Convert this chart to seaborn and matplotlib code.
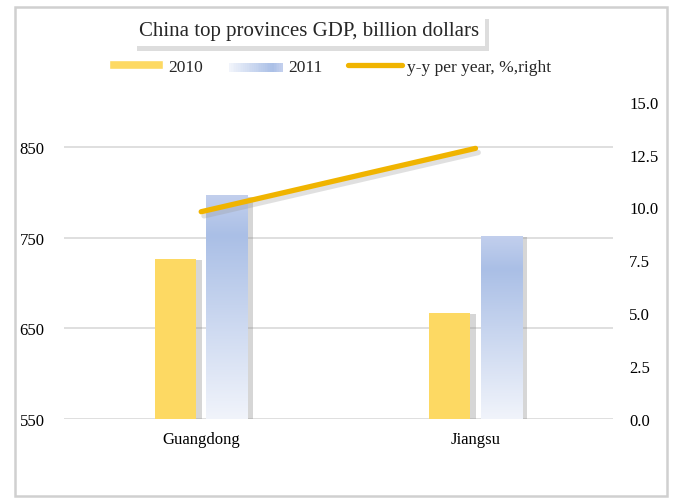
import numpy as np
import pandas as pd
import seaborn as sns
import matplotlib.pyplot as plt
import matplotlib.patheffects as pe
from matplotlib.patches import Rectangle, Patch
from matplotlib.lines import Line2D
from matplotlib.legend_handler import HandlerBase
from matplotlib.colors import LinearSegmentedColormap

provinces = ["Guangdong", "Jiangsu"]
years = ["2010", "2011"]
gdp_2010 = [726.6, 666.9]
gdp_2011 = [796.9, 751.9]
yoy = [9.8, 12.8]

left_ticks = [550, 650, 750, 850]
right_ticks = [0.0, 2.5, 5.0, 7.5, 10.0, 12.5, 15.0]

c2010 = "#fdd963"
cline = "#f0b400"
blue_grad = LinearSegmentedColormap.from_list(
    "b2011", [(0.0, "#c2cfed"), (0.18, "#aabfe6"), (1.0, "#f1f4fb")])


class GradientHandler(HandlerBase):
    def create_artists(self, legend, orig, xd, yd, w, h, fontsize, trans):
        n = 30
        out = []
        for i in range(n):
            r = Rectangle((xd + w * i / n, yd), w / n + 0.3, h,
                          facecolor=blue_grad(1 - i / (n - 1)), edgecolor="none",
                          transform=trans)
            out.append(r)
        return out


sns.set_theme(style="white")
plt.rcParams["font.family"] = ["Liberation Serif", "DejaVu Serif"]

df = pd.DataFrame({
    "province": provinces * 2,
    "year": [years[0]] * 2 + [years[1]] * 2,
    "gdp": gdp_2010 + gdp_2011,
})

fig = plt.figure(figsize=(6.74, 5.02), dpi=100)
ax = fig.add_axes([0.095, 0.164, 0.814, 0.631])

sns.barplot(data=df, x="province", y="gdp", hue="year", ax=ax,
            palette=[c2010, "#aabfe6"], width=0.376, gap=0.2,
            legend=False, saturation=1, edgecolor="none")

ymin, ymax = 550, 900
shadow = [pe.SimplePatchShadow(offset=(4, -1), shadow_rgbFace="#8a8a8a", alpha=0.35), pe.Normal()]
for bar in ax.containers[0]:
    bar.set_path_effects(shadow)
grad = np.linspace(0, 1, 256).reshape(-1, 1)
for bar in ax.containers[1]:
    bar.set_path_effects(shadow)
    x0, w = bar.get_x(), bar.get_width()
    top = bar.get_y() + bar.get_height()
    ax.imshow(grad, cmap=blue_grad, aspect="auto", origin="upper",
              extent=[x0, x0 + w, ymin, top], zorder=bar.get_zorder() + 0.1)
ax.set_xlim(-0.5, 1.5)
ax.set_ylim(ymin, ymax)
ax.set_yticks(left_ticks)
ax.yaxis.grid(True, color="#d9d9d9", lw=1.2)
ax.set_axisbelow(True)
ax.set_xlabel("")
ax.set_ylabel("")
for s in ax.spines.values():
    s.set_visible(False)
ax.tick_params(axis="y", length=0, pad=14, labelsize=12, colors="black")
ax.tick_params(axis="x", length=0, pad=9, labelsize=12, colors="black")

ax2 = ax.twinx()
sns.lineplot(x=provinces, y=yoy, ax=ax2, color=cline, lw=3.8,
             solid_capstyle="round",
             path_effects=[pe.SimpleLineShadow(offset=(2, -3), shadow_color="#9a9a9a", alpha=0.3), pe.Normal()])
ax2.set_ylim(0, 15)
ax2.set_yticks(right_ticks)
ax2.set_yticklabels([f"{v:.1f}" for v in right_ticks])
ax2.set_ylabel("")
for s in ax2.spines.values():
    s.set_visible(False)
ax2.tick_params(axis="y", length=0, pad=12, labelsize=12, colors="black")
ax2.grid(False)

handles = [Patch(facecolor=c2010), Patch(facecolor="#aabfe6"),
           Line2D([0], [0], color=cline, lw=3.8, solid_capstyle="round")]
fig.legend(handles, ["2010", "2011", "y-y per year, %,right"], ncol=3,
           loc="center", bbox_to_anchor=(0.49, 0.865), frameon=False,
           fontsize=12.5, handlelength=3.1, handleheight=0.45, handletextpad=0.3,
           columnspacing=1.5, handler_map={handles[1]: GradientHandler()})

t = fig.text(0.458, 0.937, "China top provinces GDP, billion dollars",
             ha="center", va="center", fontsize=15,
             bbox=dict(facecolor="white", edgecolor="none", boxstyle="square,pad=0.3"))
t.get_bbox_patch().set_path_effects([
    pe.SimplePatchShadow(offset=(3, -3), shadow_rgbFace="#a0a0a0", alpha=0.35), pe.Normal()])

fig.patches.append(Rectangle((15 / 674, 1 - 497 / 502), 652 / 674, 489 / 502,
                             transform=fig.transFigure, fill=False,
                             edgecolor="#d0d0d0", lw=1.8))

fig.savefig("out.png", dpi=100)
